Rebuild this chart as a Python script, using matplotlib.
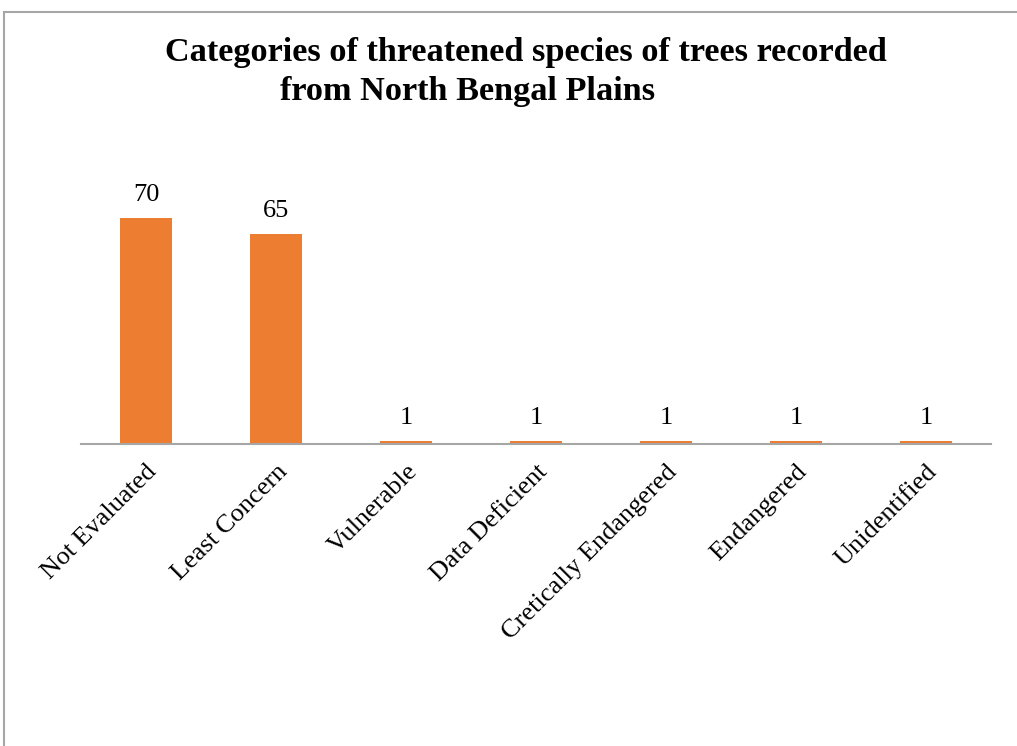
import matplotlib.pyplot as plt
from matplotlib.lines import Line2D

categories = ['Not Evaluated', 'Least Concern', 'Vulnerable', 'Data Deficient',
              'Cretically Endangered', 'Endangered', 'Unidentified']
counts = [70, 65, 1, 1, 1, 1, 1]

plt.rcParams['font.family'] = ['Liberation Serif', 'DejaVu Serif']

fig = plt.figure(figsize=(10.17, 7.46), dpi=100)
ax = fig.add_axes([0.0796, 0.4048, 0.8948, 0.347])

x = range(len(categories))
bars = ax.bar(x, counts, width=0.4, color='#ED7D31', zorder=2)
for xi, v in zip(x, counts):
    ax.text(xi, v + 3.5, str(v), ha='center', va='bottom', fontsize=19)

ax.set_xlim(-0.5, len(categories) - 0.5)
ax.set_ylim(0, 80)
ax.set_yticks([])
ax.set_xticks(list(x))
ax.set_xticklabels(categories, rotation=45, ha='right', rotation_mode='anchor',
                   fontsize=19)
ax.tick_params(axis='x', length=0, pad=12)
for s in ['top', 'right', 'left']:
    ax.spines[s].set_visible(False)
ax.spines['bottom'].set_color('#A6A6A6')
ax.spines['bottom'].set_linewidth(1.5)

fig.text(0.517, 0.930, 'Categories of threatened species of trees recorded',
         ha='center', va='center', fontsize=24.7, fontweight='bold')
fig.text(0.46, 0.877, 'from North Bengal Plains',
         ha='center', va='center', fontsize=24.7, fontweight='bold')

# frame lines around the chart area
fig.add_artist(Line2D([0.004, 1.0], [0.984, 0.984], color='#A6A6A6', lw=1.5))
fig.add_artist(Line2D([0.004, 0.004], [0.0, 0.984], color='#A6A6A6', lw=1.5))

fig.savefig('out.png', dpi=100)
